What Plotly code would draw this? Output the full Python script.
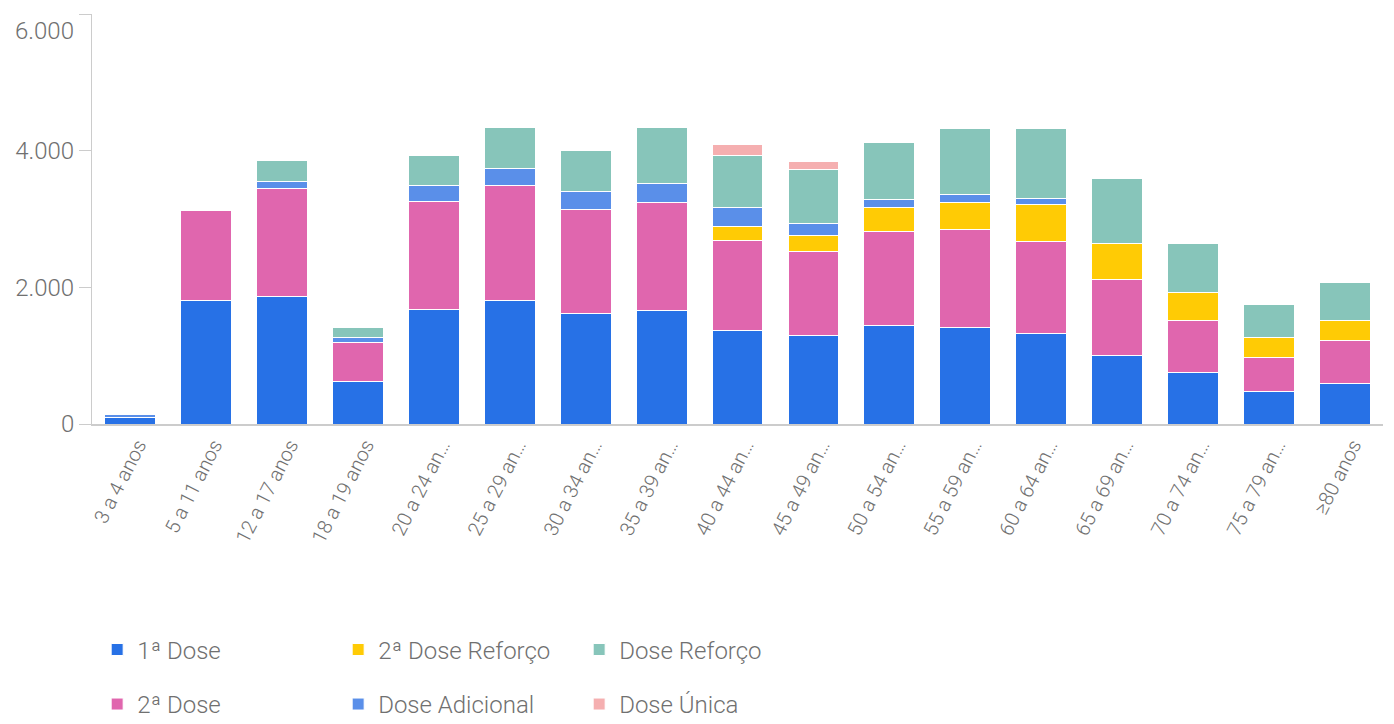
import plotly.graph_objects as go

categories = ["3 a 4 anos", "5 a 11 anos", "12 a 17 anos", "18 a 19 anos", "20 a 24 anos",
              "25 a 29 anos", "30 a 34 anos", "35 a 39 anos", "40 a 44 anos", "45 a 49 anos",
              "50 a 54 anos", "55 a 59 anos", "60 a 64 anos", "65 a 69 anos", "70 a 74 anos",
              "75 a 79 anos", "≥80 anos"]
tick_labels = ["3 a 4 anos", "5 a 11 anos", "12 a 17 anos", "18 a 19 anos", "20 a 24 an…",
               "25 a 29 an…", "30 a 34 an…", "35 a 39 an…", "40 a 44 an…", "45 a 49 an…",
               "50 a 54 an…", "55 a 59 an…", "60 a 64 an…", "65 a 69 an…", "70 a 74 an…",
               "75 a 79 an…", "≥80 anos"]

dose1 = [100, 1810, 1860, 620, 1680, 1810, 1615, 1655, 1370, 1290, 1445, 1410, 1325, 1005, 750, 470, 595]
dose2 = [0, 1315, 1590, 570, 1570, 1680, 1520, 1590, 1315, 1240, 1375, 1435, 1340, 1110, 760, 510, 620]
dose2_reforco = [0, 0, 0, 0, 0, 0, 0, 0, 205, 230, 355, 400, 545, 520, 410, 290, 300]
dose_adicional = [40, 0, 100, 70, 240, 245, 270, 280, 275, 170, 115, 120, 90, 0, 0, 0, 0]
dose_reforco = [0, 0, 300, 155, 440, 605, 595, 815, 765, 790, 830, 965, 1030, 965, 720, 475, 560]
dose_unica = [0, 0, 0, 0, 0, 0, 0, 0, 160, 120, 0, 0, 0, 0, 0, 0, 0]

y_ticks = [0, 2000, 4000, 6000]
y_tick_labels = ["0", "2.000", "4.000", ""]
y_top_label = "6.000"

FONT = "Roboto"
TEXT_COLOR = "#707070"

series = [
    ("1ª Dose", dose1, "#2771E6", "legend"),
    ("2ª Dose", dose2, "#E066AE", "legend2"),
    ("2ª Dose Reforço", dose2_reforco, "#FFCB05", "legend"),
    ("Dose Adicional", dose_adicional, "#5A8FE9", "legend2"),
    ("Dose Reforço", dose_reforco, "#87C5BA", "legend"),
    ("Dose Única", dose_unica, "#F5AFB0", "legend2"),
]

fig = go.Figure()
for name, vals, color, leg in series:
    fig.add_trace(go.Bar(
        x=categories,
        y=[v if v else None for v in vals],
        name=name,
        marker=dict(color=color, line=dict(color="white", width=1)),
        legend=leg,
    ))

legend_common = dict(
    orientation="h",
    xanchor="left",
    yanchor="middle",
    traceorder="normal",
    entrywidth=196,
    font=dict(family=FONT, size=24, color=TEXT_COLOR, weight=300),
    bgcolor="rgba(0,0,0,0)",
)

# top tick label sits just below its tick (as in the reference)
fig.add_annotation(
    x=0, xref="paper", y=y_ticks[-1], yref="y",
    text=y_top_label, showarrow=False,
    xanchor="right", yanchor="middle", xshift=-16, yshift=-17,
    font=dict(family=FONT, size=24, color=TEXT_COLOR, weight=300),
)

# The page body has an 8px margin, so the figure is sized to the visible area.
fig.update_layout(
    width=1386,
    height=716,
    barmode="stack",
    bargap=0.33,
    separators=",.",
    plot_bgcolor="white",
    paper_bgcolor="white",
    margin=dict(l=84, r=11, t=6, b=300, autoexpand=False),
    font=dict(family=FONT, color=TEXT_COLOR, weight=300),
    legend=dict(x=0.004, y=-0.551, **legend_common),
    legend2=dict(x=0.004, y=-0.684, **legend_common),
    xaxis=dict(
        tickmode="array",
        tickvals=categories,
        ticktext=tick_labels,
        tickangle=-63,
        ticklabelshift=8,
        tickfont=dict(family=FONT, size=20, color=TEXT_COLOR, weight=300),
        showline=True,
        linecolor="#cccccc",
        linewidth=1.5,
        ticks="",
        showgrid=False,
        automargin=False,
    ),
    yaxis=dict(
        range=[0, 6000],
        tickvals=y_ticks,
        ticktext=y_tick_labels,
        tickfont=dict(family=FONT, size=24, color=TEXT_COLOR, weight=300),
        showline=True,
        linecolor="#cccccc",
        linewidth=1,
        ticks="outside",
        ticklen=12,
        tickcolor="#cccccc",
        showgrid=False,
        zeroline=False,
        automargin=False,
    ),
)

fig.write_html("out.html")
